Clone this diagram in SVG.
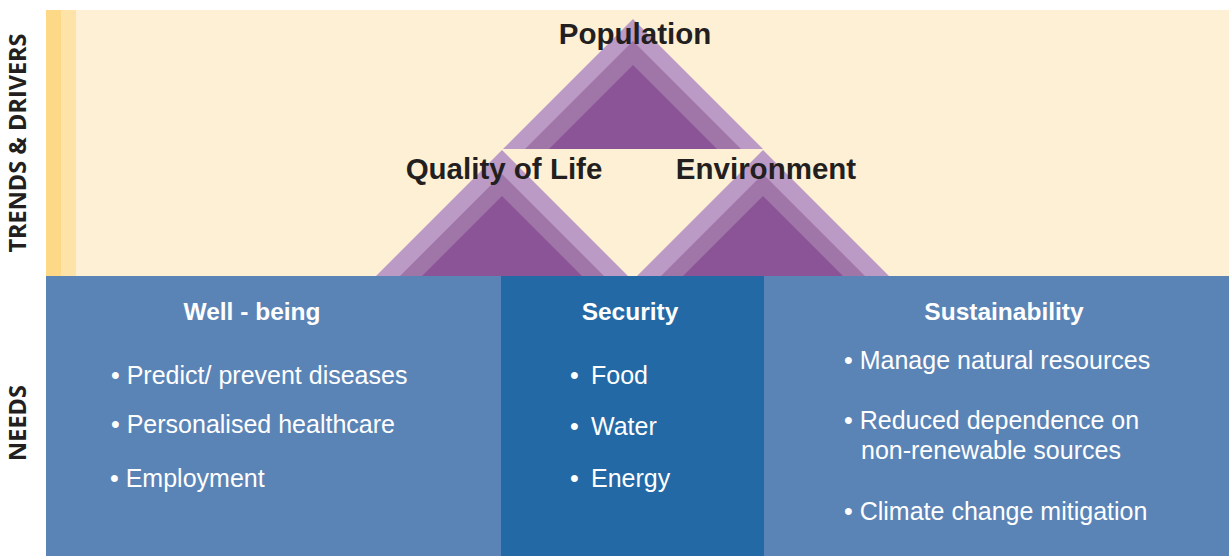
<svg xmlns="http://www.w3.org/2000/svg" width="1229" height="556" viewBox="0 0 1229 556">
<style>
.side{font-family:"Open Sans","Liberation Sans",sans-serif;font-weight:bold;font-size:23.5px;fill:#231F20}
.big{font-family:"Liberation Sans",Arial,sans-serif;font-weight:bold;font-size:29.5px;fill:#231F20;text-anchor:middle}
.title{font-family:"Liberation Sans",Arial,sans-serif;font-weight:bold;font-size:24.5px;fill:#FFFFFF;text-anchor:middle}
.item{font-family:"Liberation Sans",Arial,sans-serif;font-size:25px;fill:#FFFFFF}
.t1{fill:#BB9AC5}.t2{fill:#A075A8}.t3{fill:#8B5496}
</style>
<rect width="1229" height="556" fill="#FFFFFF"/>
<g id="trends-band">
<rect x="46" y="10" width="1183" height="266" fill="#FDF0D5"/>
<rect x="46" y="10" width="15" height="266" fill="#FDD887"/>
<rect x="61" y="10" width="15" height="266" fill="#FEE3A9"/>
</g>
<g id="population">
<polygon class="t1" points="633,19 503,149 763,149"/>
<polygon class="t2" points="633,41 525,149 741,149"/>
<polygon class="t3" points="633,65 549,149 717,149"/>
<text class="big" x="635" y="43.5">Population</text>
</g>
<g id="quality-of-life">
<polygon class="t1" points="502,150 376,276 628,276"/>
<polygon class="t2" points="502,174 400,276 604,276"/>
<polygon class="t3" points="502,196 422,276 582,276"/>
<text class="big" x="504" y="178.5">Quality of Life</text>
</g>
<g id="environment">
<polygon class="t1" points="763,150 637,276 889,276"/>
<polygon class="t2" points="763,174 661,276 865,276"/>
<polygon class="t3" points="763,196 683,276 843,276"/>
<text class="big" x="766" y="178.5">Environment</text>
</g>
<g id="wellbeing">
<rect x="46" y="276" width="455" height="280" fill="#5B84B6"/>
<text class="title" x="252" y="320">Well - being</text>
<text class="item" x="111" y="383.5">• Predict/ prevent diseases</text>
<text class="item" x="111" y="432.5">• Personalised healthcare</text>
<text class="item" x="110" y="486.5">• Employment</text>
</g>
<g id="security">
<rect x="501" y="276" width="263" height="280" fill="#2369A5"/>
<text class="title" x="630" y="320">Security</text>
<text class="item" x="570" y="384">•</text><text class="item" x="591" y="384">Food</text>
<text class="item" x="570" y="435">•</text><text class="item" x="591" y="435">Water</text>
<text class="item" x="570" y="486.5">•</text><text class="item" x="591" y="486.5">Energy</text>
</g>
<g id="sustainability">
<rect x="764" y="276" width="465" height="280" fill="#5B84B6"/>
<text class="title" x="1004" y="320">Sustainability</text>
<text class="item" x="844" y="368.5">• Manage natural resources</text>
<text class="item" x="844" y="428.5">• Reduced dependence on</text>
<text class="item" x="861" y="458.5">non-renewable sources</text>
<text class="item" x="844" y="519.5">• Climate change mitigation</text>
</g>
<g id="labels">
<text class="side" transform="translate(25.5,143) rotate(-90)" text-anchor="middle">TRENDS &amp; DRIVERS</text>
<text class="side" transform="translate(25.5,423) rotate(-90)" text-anchor="middle">NEEDS</text>
</g>
<g id="connectors"></g>
</svg>
